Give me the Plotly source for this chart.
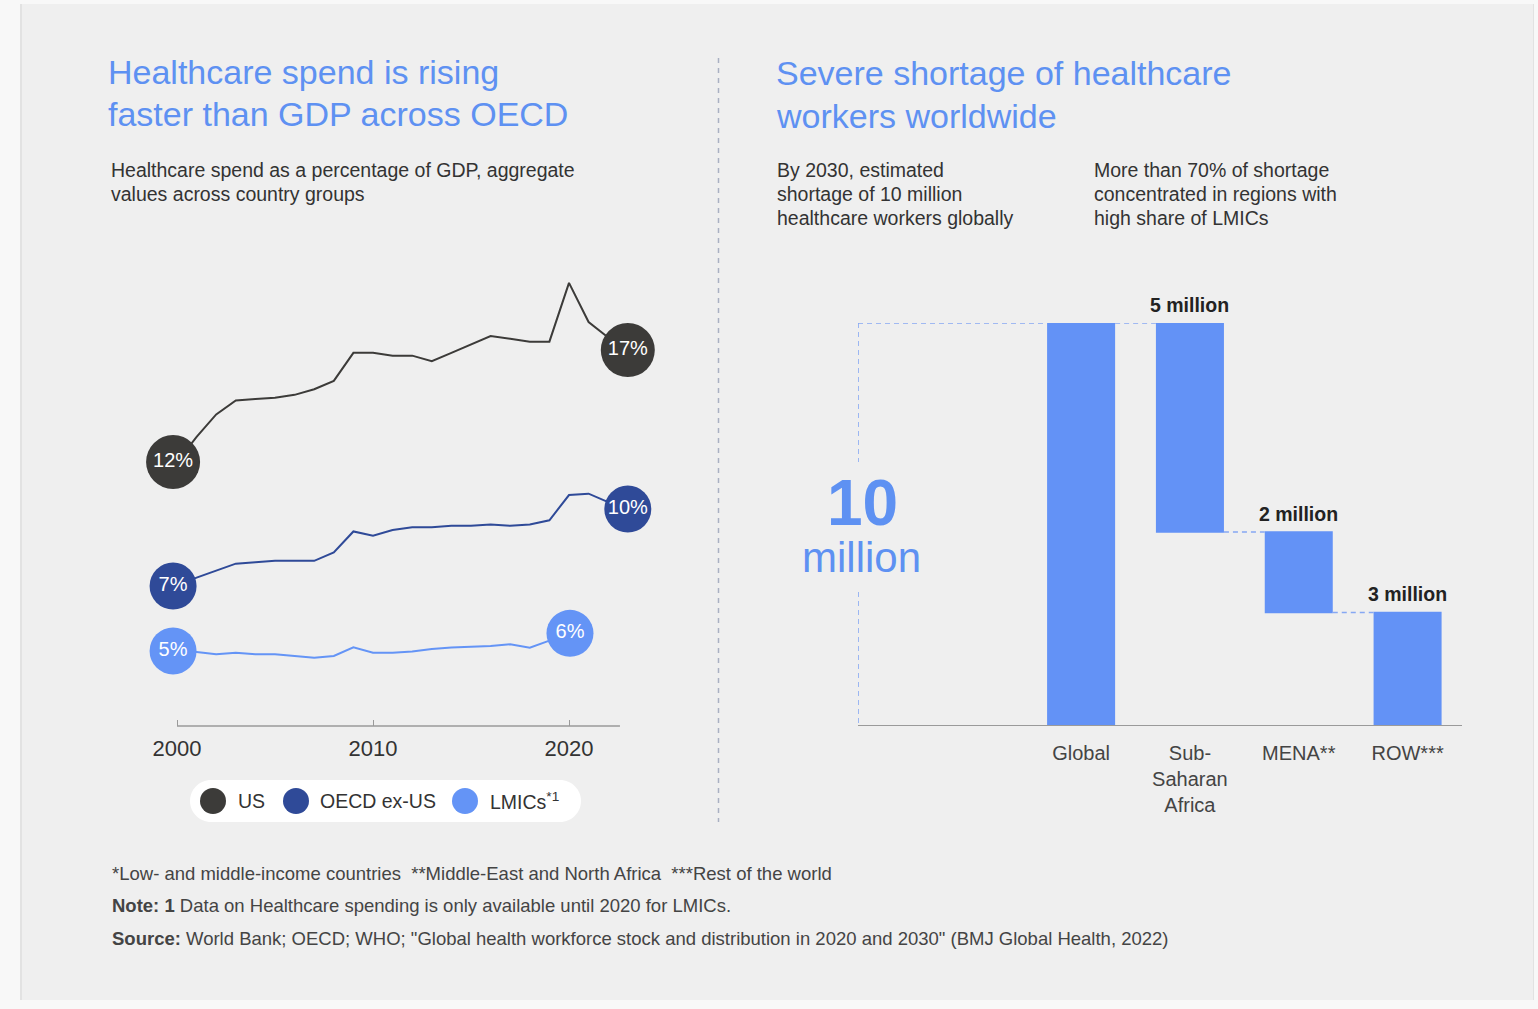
import plotly.graph_objects as go

W, H = 1538, 1009
FONT = "Liberation Sans, Arial, sans-serif"

# ---------------- data ----------------
years = list(range(2000, 2023))
us_spend = [12.5, 13.4, 14.2, 14.7, 14.75, 14.8, 14.9, 15.1, 15.4, 16.4, 16.4, 16.3,
            16.3, 16.1, 16.4, 16.7, 17.0, 16.9, 16.8, 16.8, 18.9, 17.5, 16.95]
oecd_spend = [7.0, 7.3, 7.55, 7.8, 7.85, 7.9, 7.9, 7.9, 8.2, 8.95, 8.8, 9.0,
              9.1, 9.1, 9.15, 9.15, 9.2, 9.15, 9.2, 9.35, 10.25, 10.3, 10.0]
lmic_years = list(range(2000, 2021))
lmic_spend = [5.0, 4.96, 4.88, 4.94, 4.88, 4.88, 4.82, 4.76, 4.82, 5.13, 4.94,
              4.94, 4.98, 5.07, 5.12, 5.15, 5.18, 5.24, 5.12, 5.37, 5.63]
us_labels = ["12%", "17%"]
oecd_labels = ["7%", "10%"]
lmic_labels = ["5%", "6%"]
series_names = ["US", "OECD ex-US", "LMICs<sup>*1</sup>"]
x_ticks = [2000, 2010, 2020]

regions = ["Global", "Sub-<br>Saharan<br>Africa", "MENA**", "ROW***"]
shortage = [10, -5.2, -2.0, -2.8]
measures = ["absolute", "relative", "relative", "relative"]
shortage_labels = ["", "5 million", "2 million", "3 million"]

# ---------------- styles ----------------
C_US, C_OECD, C_LMIC = "#3c3b39", "#2f4a98", "#6494f6"
C_BAR = "#6392f6"
C_TITLE = "#5e91f2"
C_TEXT = "#333333"
C_AXIS = "#9a9a9a"


def px(x):
    return x / W


def py(y):
    return 1 - y / H


fig = go.Figure()

# ---- left chart: lines ----
# (x, y, colour, axis, labels, circle size, start offset, end offset)
series = [
    (years, us_spend, C_US, "y", us_labels, 54, (-0.2, 0.0), (1.0, -0.45)),
    (years, oecd_spend, C_OECD, "y3", oecd_labels, 47, (-0.2, 0.0), (1.0, -0.25)),
    (lmic_years, lmic_spend, C_LMIC, "y4", lmic_labels, 47, (-0.2, 0.0), (0.05, 0.0)),
]
for xs, ys, col, yax, labs, size, s_off, e_off in series:
    fig.add_trace(go.Scatter(x=xs, y=ys, mode="lines", yaxis=yax, xaxis="x",
                             line=dict(color=col, width=2), hoverinfo="skip",
                             showlegend=False))
for xs, ys, col, yax, labs, size, s_off, e_off in series:
    fig.add_trace(go.Scatter(
        x=[xs[0] + s_off[0], xs[-1] + e_off[0]], y=[ys[0] + s_off[1], ys[-1] + e_off[1]],
        mode="markers+text", yaxis=yax, xaxis="x", text=labs, textposition="middle center",
        textfont=dict(color="white", size=20, family=FONT),
        marker=dict(color=col, size=size, line=dict(width=0)),
        cliponaxis=False, hoverinfo="skip", showlegend=False))

# ---- right chart: waterfall ----
fig.add_trace(go.Waterfall(
    x=regions, y=shortage, measure=measures, xaxis="x2", yaxis="y2",
    increasing=dict(marker=dict(color=C_BAR)),
    decreasing=dict(marker=dict(color=C_BAR)),
    totals=dict(marker=dict(color=C_BAR)),
    connector=dict(mode="between", line=dict(color="#86a8f3", width=1.6, dash="5px,4px")),
    textinfo="none", hoverinfo="skip", showlegend=False, cliponaxis=False))

# bar labels (above the top of each decreasing bar)
running = 0
tops = []
for v, m in zip(shortage, measures):
    if m == "absolute":
        running = v
        tops.append(v)
    else:
        tops.append(running)
        running += v
annotations = []
for reg, top, lab in zip(regions, tops, shortage_labels):
    if lab:
        annotations.append(dict(x=reg, y=top, xref="x2", yref="y2", text="<b>" + lab + "</b>",
                                showarrow=False, yanchor="bottom", yshift=5,
                                font=dict(size=19.5, color="#222222", family=FONT)))

WF_X0 = -2.05
bar_half = 0.3125
total = shortage[0]
shapes = []
dash_line = dict(color="#86a8f3", width=1.6, dash="5px,4px")
shapes.append(dict(type="line", xref="x2", yref="y2", x0=WF_X0, x1=-bar_half, y0=total, y1=total, line=dash_line))
shapes.append(dict(type="line", xref="x2", yref="y2", x0=WF_X0, x1=WF_X0, y0=total, y1=total * 0.654, line=dash_line))
shapes.append(dict(type="line", xref="x2", yref="y2", x0=WF_X0, x1=WF_X0, y0=total * 0.331, y1=0, line=dash_line))

# x-axis baseline of the line chart (ends a little after the last year)
X_LINE_END = 2022.6
shapes.append(dict(type="line", xref="x", yref="y domain", x0=years[0], x1=X_LINE_END, y0=0, y1=0,
                   line=dict(color=C_AXIS, width=1.3)))


def ann(text, x, y, size, color=C_TEXT, xanchor="left", yanchor="middle"):
    annotations.append(dict(text=text, x=px(x), y=py(y), xref="paper", yref="paper",
                            xanchor=xanchor, yanchor=yanchor, showarrow=False,
                            font=dict(size=size, color=color, family=FONT), align="left"))


# titles
ann("Healthcare spend is rising", 106, 72, 34, C_TITLE)
ann("faster than GDP across OECD", 106, 114, 34, C_TITLE)
ann("Severe shortage of healthcare", 774, 73, 34, C_TITLE)
ann("workers worldwide", 774, 116, 34, C_TITLE)

# subtitles
for i, t in enumerate(["Healthcare spend as a percentage of GDP, aggregate", "values across country groups"]):
    ann(t, 109, 170 + 24 * i, 19.5)
for i, t in enumerate(["By 2030, estimated", "shortage of 10 million", "healthcare workers globally"]):
    ann(t, 775, 170 + 24 * i, 19.5)
for i, t in enumerate(["More than 70% of shortage", "concentrated in regions with", "high share of LMICs"]):
    ann(t, 1092, 170 + 24 * i, 19.5)

# 10 million
ann("<b>10</b>", 862, 503, 64, C_TITLE, xanchor="center")
ann("million", 861, 557, 42, C_TITLE, xanchor="center")

# footnotes
ann("*Low- and middle-income countries  **Middle-East and North Africa  ***Rest of the world", 110, 873, 18.5, "#444444")
ann("<b>Note: 1</b> Data on Healthcare spending is only available until 2020 for LMICs.", 110, 905, 18.5, "#444444")
ann("<b>Source:</b> World Bank; OECD; WHO; \"Global health workforce stock and distribution in 2020 and 2030\" (BMJ Global Health, 2022)", 110, 938, 18.5, "#444444")

# legend (manual)
legend_items = [(213, C_US, 236), (296, C_OECD, 318), (465, C_LMIC, 488)]
for (cx, col, tx), name in zip(legend_items, series_names):
    shapes.append(dict(type="circle", xref="paper", yref="paper", x0=px(cx - 13), x1=px(cx + 13),
                       y0=py(801 + 13), y1=py(801 - 13), fillcolor=col, line=dict(width=0)))
    ann(name, tx, 801, 19.5)


# background card and legend pill
def pill(L, T, R, B):
    r = (B - T) / 2
    k = 0.5523 * r
    pts = [
        ("M", [(L + r, T)]),
        ("L", [(R - r, T)]),
        ("C", [(R - r + k, T), (R, T + r - k), (R, T + r)]),
        ("C", [(R, T + r + k), (R - r + k, B), (R - r, B)]),
        ("L", [(L + r, B)]),
        ("C", [(L + r - k, B), (L, T + r + k), (L, T + r)]),
        ("C", [(L, T + r - k), (L + r - k, T), (L + r, T)]),
    ]
    s = ""
    for cmd, ps in pts:
        s += cmd + " " + " ".join(f"{px(a):.6f},{py(b):.6f}" for a, b in ps) + " "
    return s + "Z"


bg_shapes = [
    dict(type="rect", xref="paper", yref="paper", x0=px(20), x1=px(1534), y0=py(1000), y1=py(4),
         fillcolor="#e2e2e2", line=dict(width=0), layer="below"),
    dict(type="rect", xref="paper", yref="paper", x0=px(22), x1=px(1533), y0=py(1000), y1=py(4),
         fillcolor="#efefef", line=dict(width=0), layer="below"),
    dict(type="path", xref="paper", yref="paper", path=pill(190, 780, 581, 822),
         fillcolor="white", line=dict(width=0), layer="below"),
    dict(type="line", xref="paper", yref="paper", x0=px(718.5), x1=px(718.5), y0=py(58), y1=py(822),
         line=dict(color="#a9b0c2", width=1.5, dash="5px,5px")),
]

# y ranges chosen so all three lines share the same pixel-per-percent scale
Y_SPAN = 16.29
PX_PER_YEAR = 19.6
X_RANGE = [1999, 2024]
X0_PX = 177 - (2000 - X_RANGE[0]) * PX_PER_YEAR
fig.update_layout(
    width=W, height=H, autosize=False,
    margin=dict(l=0, r=0, t=0, b=0, pad=0, autoexpand=False),
    paper_bgcolor="#f8f8f8", plot_bgcolor="rgba(0,0,0,0)",
    font=dict(family=FONT, color=C_TEXT),
    showlegend=False,
    waterfallgap=0.375,
    xaxis=dict(domain=[px(X0_PX), px(X0_PX + (X_RANGE[1] - X_RANGE[0]) * PX_PER_YEAR)], range=X_RANGE,
               anchor="y", showline=False, ticks="inside", ticklen=6,
               tickcolor=C_AXIS, tickwidth=1, tickvals=x_ticks, showgrid=False, zeroline=False,
               tickfont=dict(size=22, color=C_TEXT, family=FONT), ticklabelstandoff=7,
               fixedrange=True, automargin=False),
    yaxis=dict(domain=[py(726), py(270)], range=[3.07, 3.07 + Y_SPAN], visible=False,
               anchor="x", fixedrange=True, automargin=False),
    yaxis3=dict(overlaying="y", range=[2.0, 2.0 + Y_SPAN], visible=False, anchor="x",
                fixedrange=True, automargin=False),
    yaxis4=dict(overlaying="y", range=[2.32, 2.32 + Y_SPAN], visible=False, anchor="x",
                fixedrange=True, automargin=False),
    xaxis2=dict(domain=[px(858), px(1462)], range=[WF_X0, 3.5], anchor="y2", type="category",
                showline=True, linecolor=C_AXIS, linewidth=1.3, ticks="", showgrid=False,
                zeroline=False, tickfont=dict(size=20, color="#444444", family=FONT),
                ticklabelstandoff=10, fixedrange=True, automargin=False),
    yaxis2=dict(domain=[py(725), py(323)], range=[0, 10], visible=False, anchor="x2",
                fixedrange=True, automargin=False),
    annotations=annotations,
    shapes=bg_shapes + shapes,
)

fig.write_html("out.html")
